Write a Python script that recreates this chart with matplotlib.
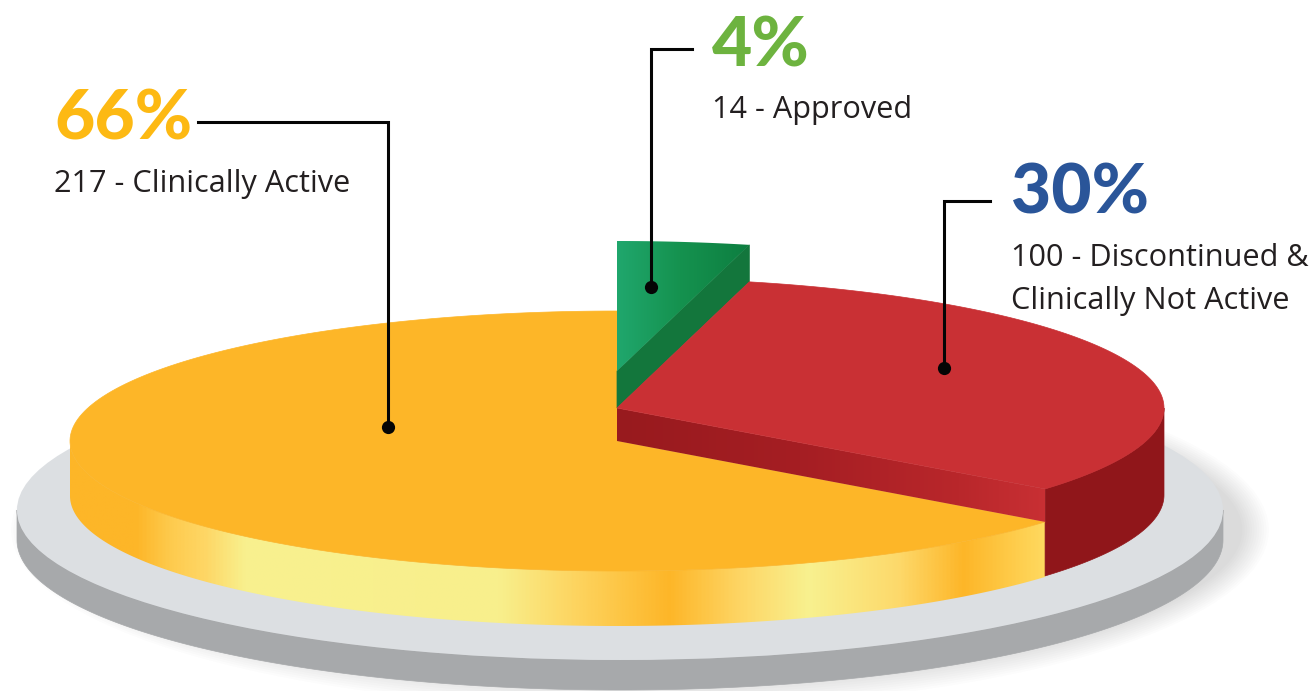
import numpy as np
import matplotlib
matplotlib.use("Agg")
import matplotlib.pyplot as plt
from matplotlib.colors import LinearSegmentedColormap
from matplotlib.patches import Ellipse, Polygon

# values as printed on the chart
labels = ["Clinically Active", "Approved", "Discontinued &\nClinically Not Active"]
counts = [217, 14, 100]
percents = [66, 4, 30]
# how wide the slices are drawn in the picture (degrees)
drawn_sweep = [231.5, 14, 114.5]

W, H = 1315, 691
CX, RX, RY = 617, 547, 130
YELLOW_Y, RED_Y, GREEN_Y = 441, 408, 371
DEPTH = 55
FONT = "Open Sans"

plt.rcParams["font.family"] = [FONT, "DejaVu Sans"]

fig = plt.figure(figsize=(W / 100, H / 100), dpi=100)
ax = fig.add_axes([0, 0, 1, 1])
ax.set_xlim(0, W)
ax.set_ylim(H, 0)
ax.axis("off")


def arc(cy, a0, a1, n=200, cx=CX, rx=RX, ry=RY):
    t = np.radians(np.linspace(a0, a1, n))
    return np.column_stack([cx + rx * np.cos(t), cy - ry * np.sin(t)])


def grad_fill(pts, stops, z):
    # horizontal gradient clipped to a polygon, stops given along x
    x0, x1 = stops[0][0], stops[-1][0]
    y0, y1 = pts[:, 1].min(), pts[:, 1].max()
    pos = [(s[0] - x0) / (x1 - x0) for s in stops]
    cmap = LinearSegmentedColormap.from_list("g", list(zip(pos, [s[1] for s in stops])))
    im = ax.imshow(np.linspace(0, 1, 512)[None, :], cmap=cmap, extent=[x0, x1, y1, y0],
                   aspect="auto", zorder=z, interpolation="bilinear")
    clip = Polygon(pts, closed=True, transform=ax.transData, fc="none", ec="none")
    ax.add_patch(clip)
    im.set_clip_path(clip)


def poly(pts, color, z):
    ax.add_patch(Polygon(pts, closed=True, fc=color, ec=color, lw=0.5, zorder=z))


# plate with a soft shadow, pushed to the lower right
for i in range(12):
    grow = (12 - i) * 2.4
    ax.add_patch(Ellipse((640, 530), 2 * (600 + grow), 2 * (150 + grow), fc="#6d6e71", ec="none",
                         alpha=0.018, zorder=1))
side = np.vstack([arc(510, 180, 360, cx=620, rx=603, ry=150),
                  arc(540, 360, 180, cx=620, rx=603, ry=150)])
poly(side, "#a7a9ab", 2)
ax.add_patch(Ellipse((620, 510), 1206, 300, fc="#dcdfe2", ec="none", zorder=3))

# angles of the slices, going round from twelve o'clock
a_yellow = 90 + drawn_sweep[0]
a_green = 90 - drawn_sweep[1]
a_red = a_green - drawn_sweep[2]

# yellow slice
yellow_rim = arc(YELLOW_Y, 180, a_yellow)
side_y = np.vstack([yellow_rim, (yellow_rim + [0, DEPTH])[::-1]])
grad_fill(side_y, [(70, "#fdb628"), (135, "#fdb628"), (170, "#fecb4e"), (205, "#fed766"), (245, "#f8f18f"),
                   (500, "#f8ef8c"), (570, "#fdd663"), (670, "#fdb628"), (740, "#fed564"), (810, "#f8f18f"),
                   (900, "#fdd96b"), (965, "#fdb628"), (1050, "#ffdb62")], 4)
poly(np.vstack([[[CX, YELLOW_Y]], arc(YELLOW_Y, 90, a_yellow)]), "#fdb628", 6)

# red slice
red_corner = arc(RED_Y, a_red, a_red, 1)[0]
inner = np.array([[CX, RED_Y], red_corner, red_corner + [0, YELLOW_Y - RED_Y], [CX, YELLOW_Y]])
grad_fill(inner, [(617, "#981a1e"), (800, "#a51e23"), (960, "#b9272b"), (1050, "#c93034")], 7)
red_rim = arc(RED_Y, a_red, 0, 60)
outer = np.vstack([red_rim, (red_rim + [0, 87])[::-1]])
poly(outer, "#90161a", 5)
poly(np.vstack([[[CX, RED_Y]], arc(RED_Y, a_green, a_red)]), "#c93034", 8)

# green slice
green_corner = arc(GREEN_Y, a_green, a_green, 1)[0]
band = np.array([[CX, GREEN_Y], green_corner, green_corner + [0, RED_Y - GREEN_Y], [CX, RED_Y]])
poly(band, "#13763c", 7)
grad_fill(np.vstack([[[CX, GREEN_Y]], arc(GREEN_Y, 90, a_green, 30)]),
          [(617, "#20a76d"), (680, "#15924f"), (750, "#0d7e40")], 8)

# leader lines
leaders = [[(198, 122), (388, 122), (388, 427)],
           [(692, 49), (651, 49), (651, 287)],
           [(990, 201), (944, 201), (944, 368)]]
for pts in leaders:
    xs, ys = zip(*pts)
    ax.plot(xs, ys, color="#050505", lw=2.2, solid_joinstyle="miter", zorder=10)
    ax.plot(xs[-1], ys[-1], "o", color="#050505", ms=9.5, mew=0, zorder=10)

# text
pct_colors = ["#fdb913", "#6db33f", "#2a5599"]
pct_pos = [(54, 139), (712, 66), (1011, 213)]
txt_pos = [(54, 192), (712, 118), (1011, 266)]
for p, n, lab, col, (px, py), (tx, ty) in zip(percents, counts, labels, pct_colors, pct_pos, txt_pos):
    ax.text(px, py, f"{p}%", color=col, fontsize=50, fontweight=900, family=["Lato", "DejaVu Sans"],
            va="baseline", ha="left", zorder=11)
    first, *rest = lab.split("\n")
    ax.text(tx, ty, f"{n} - {first}", color="#231f20", fontsize=22.1, va="baseline", ha="left", zorder=11)
    for j, line in enumerate(rest):
        ax.text(tx, ty + 43 * (j + 1), line, color="#231f20", fontsize=22.1, va="baseline", ha="left", zorder=11)

ax.set_xlim(0, W)
ax.set_ylim(H, 0)
fig.savefig("out.png", dpi=100)
